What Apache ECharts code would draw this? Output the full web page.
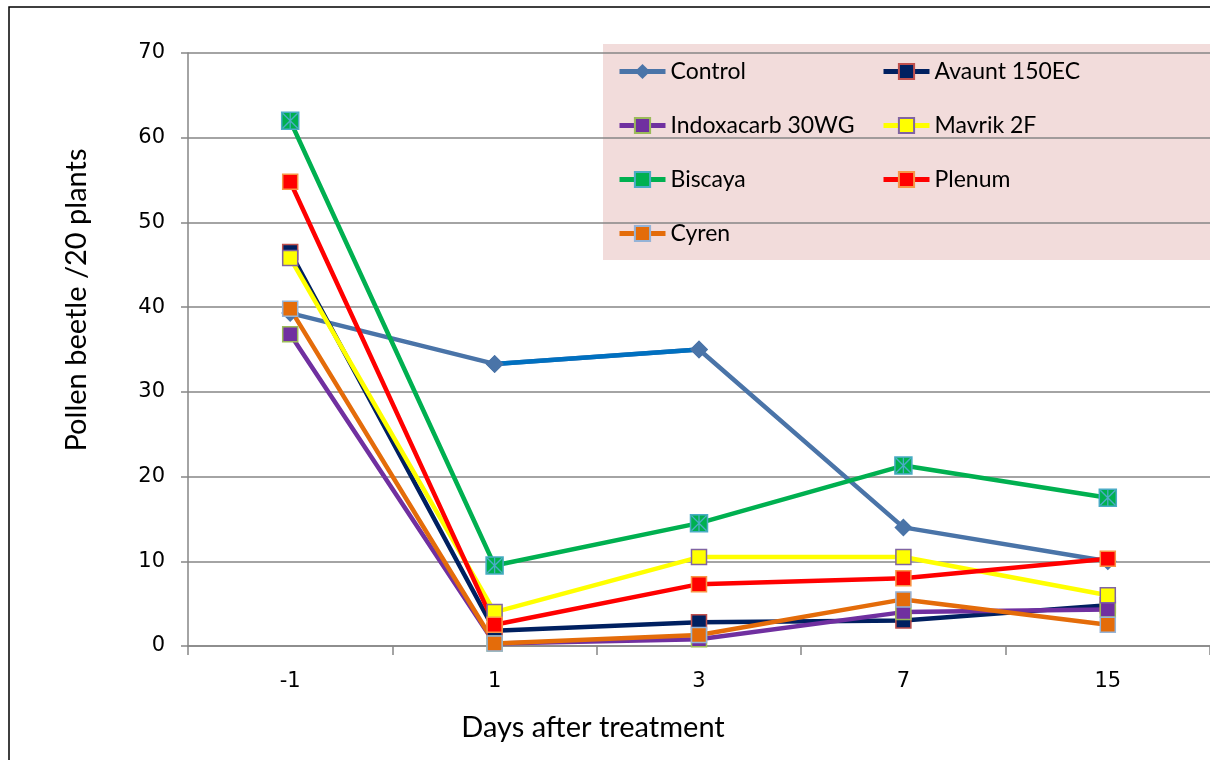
<!DOCTYPE html>
<html>
<head>
<meta charset="utf-8">
<script src="https://cdn.jsdelivr.net/npm/echarts@6/dist/echarts.min.js"></script>
<style>html,body{margin:0;padding:0;background:#fff}#c{width:1210px;height:760px}</style>
</head>
<body>
<div id="c"></div>
<script>
var categories = ['-1', '1', '3', '7', '15'];
var control    = [39.3, 33.3, 35.0, 14.0, 10.0];
var avaunt     = [46.5, 1.8, 2.8, 3.0, 4.8];
var indoxacarb = [36.8, 0.3, 0.8, 4.0, 4.3];
var mavrik     = [45.8, 4.0, 10.5, 10.5, 6.0];
var biscaya    = [62.0, 9.5, 14.5, 21.3, 17.5];
var plenum     = [54.8, 2.5, 7.3, 8.0, 10.3];
var cyren      = [39.8, 0.3, 1.3, 5.5, 2.5];
var yTicks = [0, 10, 20, 30, 40, 50, 60, 70];

var star = 'path://M9.2 0L10.8 0L10.8 20L9.2 20Z M0 1.2L1.2 0L20 18.8L18.8 20Z M18.8 0L20 1.2L1.2 20L0 18.8Z';

function sq(name, data, line, fill, border) {
  return {
    name: name, type: 'line', data: data,
    symbol: 'rect', symbolSize: 15, showSymbol: true,
    lineStyle: {color: line, width: 4.5},
    itemStyle: {color: fill, borderColor: border, borderWidth: 1.5},
    emphasis: {disabled: true}, animation: false
  };
}

var controlMid = control.map(function (v, i) { return (i === 1 || i === 2) ? v : null; });

var series = [
  {
    name: 'Control', type: 'line', data: control,
    symbol: 'diamond', symbolSize: 18,
    lineStyle: {color: '#4A74A8', width: 4.5},
    itemStyle: {color: '#4A74A8', borderColor: '#4A74A8', borderWidth: 0},
    emphasis: {disabled: true}, animation: false
  },
  {
    name: 'ControlMid', type: 'line', data: controlMid,
    symbol: 'diamond', symbolSize: 18,
    lineStyle: {color: '#0070C0', width: 4.5},
    itemStyle: {color: '#4A74A8'},
    emphasis: {disabled: true}, animation: false
  },
  sq('Avaunt 150EC', avaunt, '#002060', '#002060', '#C0504D'),
  sq('Indoxacarb 30WG', indoxacarb, '#7030A0', '#7030A0', '#9BBB59'),
  sq('Mavrik 2F', mavrik, '#FFFF00', '#FFFF00', '#8064A2'),
  sq('Biscaya', biscaya, '#00B050', '#00B050', '#4BACC6'),
  {
    name: 'BiscayaStar', type: 'line', data: biscaya,
    symbol: star, symbolSize: 16,
    lineStyle: {width: 0, opacity: 0},
    itemStyle: {color: '#4BACC6'},
    emphasis: {disabled: true}, animation: false
  },
  sq('Plenum', plenum, '#FF0000', '#FF0000', '#F79646'),
  sq('Cyren', cyren, '#E46C0A', '#E46C0A', '#95B3D7')
];
series[5].symbolSize = 17;

var legendText = {fontFamily: 'Lato', fontSize: 23, color: '#000'};

var chart = echarts.init(document.getElementById('c'), null, {renderer: 'canvas'});
chart.setOption({
  animation: false,
  backgroundColor: '#fff',
  grid: {left: 188, top: 53, width: 1028, height: 593, containLabel: false},
  xAxis: {
    type: 'category', data: categories, boundaryGap: true,
    axisLine: {lineStyle: {color: '#868686', width: 1.5}},
    axisTick: {show: true, length: 9, lineStyle: {color: '#868686', width: 1.5}},
    axisLabel: {fontFamily: 'DejaVu Sans', fontSize: 21, color: '#000', margin: 25},
    splitLine: {show: false}
  },
  yAxis: {
    type: 'value', min: yTicks[0], max: yTicks[yTicks.length - 1], interval: 10,
    axisLine: {show: true, lineStyle: {color: '#868686', width: 1.5}},
    axisTick: {show: true, length: 7, lineStyle: {color: '#868686', width: 1.5}},
    axisLabel: {fontFamily: 'DejaVu Sans', fontSize: 21, color: '#000', margin: 23},
    splitLine: {show: true, lineStyle: {color: '#868686', width: 1.5}}
  },
  legend: [
    {
      orient: 'vertical', left: 612, top: 55, itemWidth: 46, itemHeight: 19, itemGap: 31,
      data: ['Control', 'Indoxacarb 30WG', 'Biscaya', 'Cyren'], textStyle: legendText,
      lineStyle: {width: 5}, selectedMode: false
    },
    {
      orient: 'vertical', left: 876, top: 55, itemWidth: 46, itemHeight: 19, itemGap: 31,
      data: ['Avaunt 150EC', 'Mavrik 2F', 'Plenum'], textStyle: legendText,
      lineStyle: {width: 5}, selectedMode: false
    }
  ],
  graphic: [
    {type: 'rect', z: -1, silent: true, shape: {x: 9, y: 7, width: 1220, height: 770}, style: {fill: null, stroke: '#000', lineWidth: 1.5}},
    {type: 'rect', z: 0, silent: true, shape: {x: 603, y: 44, width: 620, height: 216}, style: {fill: '#F2DCDB'}},
    {type: 'text', silent: true, x: 77, y: 300, rotation: Math.PI / 2, style: {text: 'Pollen beetle /20 plants', fontFamily: 'Lato', fontSize: 29, fill: '#000', textAlign: 'center', textVerticalAlign: 'middle'}},
    {type: 'text', silent: true, x: 593, y: 728, style: {text: 'Days after treatment', fontFamily: 'Lato', fontSize: 29, fill: '#000', textAlign: 'center', textVerticalAlign: 'middle'}}
  ],
  series: series
});
</script>
</body>
</html>
